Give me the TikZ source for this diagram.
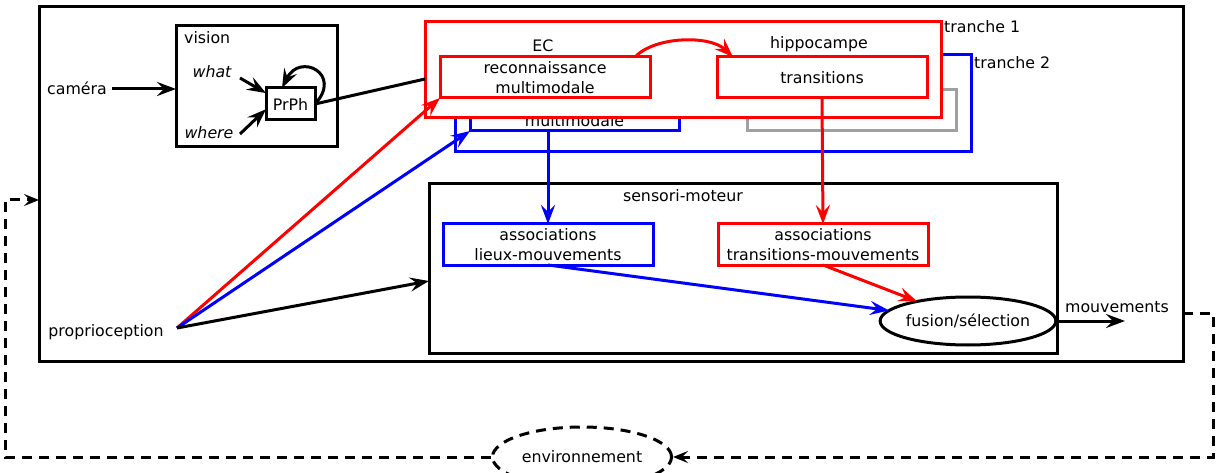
\documentclass[tikz,border=0pt]{standalone}
\usepackage{fontspec}
\setmainfont{DejaVu Sans}
\usetikzlibrary{arrows.meta,shapes.geometric,calc}
\definecolor{tgray}{RGB}{160,160,160}
\begin{document}
\begin{tikzpicture}[x=1pt,y=1pt,
  every node/.style={font=\fontsize{15.8}{19.5}\selectfont, text=black},
  bx/.style={draw, line width=3pt, inner sep=0pt, outer sep=0pt, anchor=south west, align=center},
  lbl/.style={inner sep=0pt},
  arr/.style={-{Stealth[length=19pt,width=14pt,inset=7pt]}, line width=3pt},
  dsh/.style={line width=3pt, dash pattern=on 10pt off 7pt},
]
\useasboundingbox (0,0) rectangle (1221,472);
\fill[white] (0,0) rectangle (1221,472);

% outer box
\node[bx, minimum width=1144pt, minimum height=354pt] (outer) at (39,111) {};

% vision
\node[bx, minimum width=161pt, minimum height=121pt] (vision) at (176,325) {};
\node[lbl, anchor=west] (vislbl) at (184,434) {vision};
\node[lbl, font=\fontsize{15.8}{19.5}\selectfont\itshape] (what) at (212,400) {what};
\node[lbl, font=\fontsize{15.8}{19.5}\selectfont\itshape] (where) at (209,339) {where};
\node[bx, minimum width=49pt, minimum height=32pt] (prph) at (266,352) {PrPh};
\node[lbl] (cam) at (77,384) {caméra};
\coordinate (camstart) at (112,383);
\coordinate (whatstart) at (240,394);
\coordinate (wherestart) at (240,338);

% tranche 2 (behind)
\node[bx, draw=blue, minimum width=516pt, minimum height=97pt] (bluetr) at (455,320) {};
\node[bx, draw=blue, minimum width=209pt, minimum height=41pt] (brec) at (470,341) {reconnaissance\\multimodale};
\node[bx, draw=tgray, minimum width=209pt, minimum height=41pt] (gtr) at (747,341) {};
\node[lbl, anchor=west] (tr2) at (974,409) {tranche 2};

% tranche 1 (front)
\node[bx, draw=red, fill=white, minimum width=516pt, minimum height=96pt] (redtr) at (425,354) {};
\node[lbl, anchor=west] (tr1) at (944,445) {tranche 1};
\node[lbl] (ec) at (543,426) {EC};
\node[lbl] (hip) at (819,428) {hippocampe};
\node[bx, draw=red, minimum width=210pt, minimum height=41pt] (rrec) at (440,374) {reconnaissance\\multimodale};
\node[bx, draw=red, minimum width=210pt, minimum height=41pt] (rtr) at (717,374) {transitions};

% sensori-moteur
\node[bx, minimum width=628pt, minimum height=169pt] (sens) at (429,119) {};
\node[lbl] (senslbl) at (683,276) {sensori-moteur};
\node[bx, draw=blue, minimum width=210pt, minimum height=41pt] (lieux) at (443,207) {associations\\lieux-mouvements};
\node[bx, draw=red, minimum width=210pt, minimum height=41pt] (tm) at (718,207) {associations\\transitions-mouvements};
\node[draw, ellipse, line width=3pt, inner sep=0pt, outer sep=0pt, minimum width=154pt, minimum height=48pt] (fusion) at (968,151) {fusion/sélection};
\node[lbl] (mvlbl) at (1117,165) {mouvements};
\coordinate (mvend) at (1125,151);

% proprioception
\node[lbl] (proplbl) at (106,140) {proprioception};
\coordinate (prop) at (177,144);

% environment
\node[draw, ellipse, dsh, inner sep=0pt, minimum width=179pt, minimum height=60pt] (env) at (582,15) {environnement};

% helper coordinates on borders
\path (redtr.south west) ++(0,39) coordinate (redin);
\path (sens.south west) ++(0,72) coordinate (sensin);
\path (outer.south west) ++(0,161) coordinate (outerin);
\path (outer.south east) ++(0,48) coordinate (outerout);

% connectors
\draw[arr] (camstart) -- (camstart -| vision.west);
\draw[arr] (whatstart) -- (prph.156);
\draw[arr] (wherestart) -- (prph.192);
\draw[arr] (prph.east) .. controls +(28,30) and +(18,36) .. ($(prph.north)+(-8.5,0)$);
\draw[line width=3pt] (prph.east) -- (redin);

\draw[arr, red] ($(rrec.north east)+(-15,0)$) .. controls +(20,21) and +(-23,22) .. ($(rtr.north west)+(16,0)$);

\draw[arr, blue] (lieux.north |- brec.south) -- (lieux.north);
\draw[arr, red] (rtr.south) -- (tm.north);
\draw[arr, blue] (lieux.south) -- (fusion);
\draw[arr, red] (tm.south) -- (fusion);
\draw[arr] (fusion.east) -- (mvend);

\draw[arr, red] (prop) -- (rrec.south west);
\draw[arr, blue] (prop) -- (brec.south west);
\draw[arr] (prop) -- (sensin);

\draw[dsh, -{Stealth[length=15pt,width=12pt,inset=6pt]}] (outerout) -- ++(30,0) |- (env.east);
\draw[dsh, -{Stealth[length=15pt,width=12pt,inset=6pt]}] (env.west) -| ++(-486,257) -- (outerin);
\end{tikzpicture}
\end{document}
